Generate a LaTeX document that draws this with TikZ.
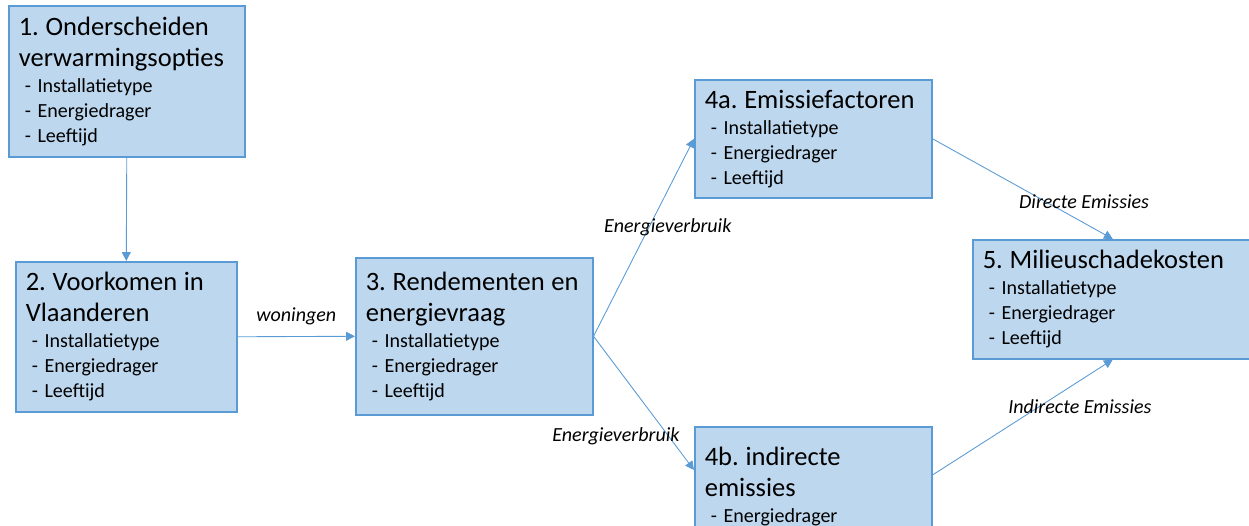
\documentclass[tikz,border=0pt]{standalone}
\usepackage{fontspec}
\setmainfont{Carlito}
\usepackage{tikz}
\usetikzlibrary{arrows.meta,positioning}
\definecolor{vakblauw}{HTML}{BDD7EE}
\definecolor{randblauw}{HTML}{5B9BD5}
\frenchspacing

\newcommand{\stapinhoud}[2]{{\fontsize{15.1}{17.6}\selectfont #1\par}\vspace{0.6pt}{\leftskip=3.4pt #2\par}}

\tikzset{
    stapvak/.style={draw=randblauw, fill=vakblauw, line width=0.9pt, anchor=north west,
        align=left, inner xsep=0.2cm, inner ysep=0pt,
        font=\fontsize{11.4}{14.2}\selectfont},
    pijl/.style={draw=randblauw, line width=0.5pt, -{Triangle[length=5pt,width=5pt]}},
    pijllabel/.style={font=\fontsize{11.4}{13}\selectfont\itshape}
}

\begin{document}
\begin{tikzpicture}[x=0.02cm, y=-0.02cm]
        \useasboundingbox (0,0) rectangle (1249,526);
        \clip (0,0) rectangle (1249,526);
        \node[stapvak, text width=4.32cm, minimum height=3.02cm] (stap1) at (8,5)
            {\stapinhoud{1. Onderscheiden\\verwarmingsopties}{- Installatietype\\- Energiedrager\\- Leeftijd}};
        \node[stapvak, text width=4.02cm, minimum height=3.0cm] (stap2) at (15,261)
            {\stapinhoud{2. Voorkomen in\\Vlaanderen}{- Installatietype\\- Energiedrager\\- Leeftijd}};
        \node[stapvak, text width=4.34cm, minimum height=3.14cm] (stap3) at (355,257)
            {\stapinhoud{\mbox{3. Rendementen en}\\energievraag}{- Installatietype\\- Energiedrager\\- Leeftijd}};
        \node[stapvak, text width=4.34cm, minimum height=2.36cm] (stap4a) at (694,79)
            {\stapinhoud{4a. Emissiefactoren}{- Installatietype\\- Energiedrager\\- Leeftijd}};
        \node[stapvak, text width=4.34cm, minimum height=2.4cm] (stap4b) at (694,426)
            {\stapinhoud{4b. indirecte\\emissies}{- Energiedrager}};
        \node[stapvak, text width=5.2cm, minimum height=2.38cm] (stap5) at (972,239)
            {\stapinhoud{5. Milieuschadekosten}{- Installatietype\\- Energiedrager\\- Leeftijd}};

        \draw[pijl] (stap1.south) -- (stap2.north);
        \draw[pijl] (stap2.east) -- node[pijllabel, above=3pt] {woningen} (stap3.west);
        \draw[pijl] (stap3.east) -- node[pijllabel, pos=0.55, xshift=0.38cm] {Energieverbruik} (stap4a.west);
        \draw[pijl] (stap3.east) -- node[pijllabel, pos=0.75, xshift=-1.06cm] {Energieverbruik} ([yshift=-0.88cm]stap4b.north west);
        \draw[pijl] (stap4a.east) -- node[pijllabel, pos=0.63, xshift=0.76cm] {Directe Emissies} (stap5.north);
        \draw[pijl] ([yshift=-0.98cm]stap4b.north east) -- node[pijllabel, pos=0.59, xshift=0.82cm] {Indirecte Emissies} (stap5.south);
    \end{tikzpicture}
\end{document}
